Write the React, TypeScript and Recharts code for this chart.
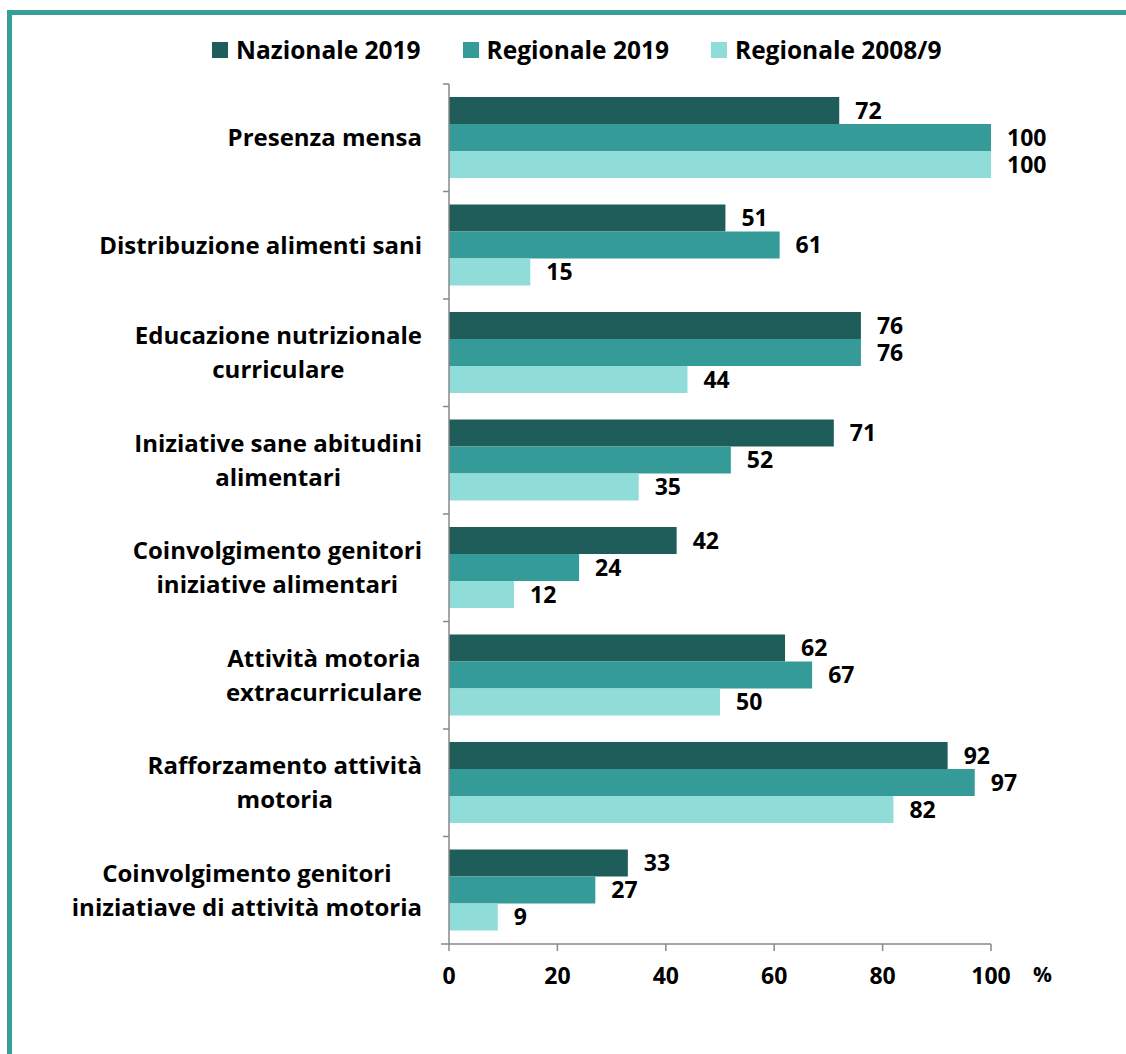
import { BarChart, Bar, XAxis, YAxis, LabelList } from 'recharts';

const categories = [
  'Presenza mensa',
  'Distribuzione alimenti sani',
  'Educazione nutrizionale|curriculare',
  'Iniziative sane abitudini|alimentari',
  'Coinvolgimento genitori|iniziative alimentari',
  'Attività motoria|extracurriculare',
  'Rafforzamento attività|motoria',
  'Coinvolgimento genitori|iniziatiave di attività motoria',
];

const nazionale2019 = [72, 51, 76, 71, 42, 62, 92, 33];
const regionale2019 = [100, 61, 76, 52, 24, 67, 97, 27];
const regionale2008 = [100, 15, 44, 35, 12, 50, 82, 9];

const xTicks = [0, 20, 40, 60, 80, 100];

const series = [
  { key: 'naz', name: 'Nazionale 2019', color: '#1f5d5b' },
  { key: 'reg', name: 'Regionale 2019', color: '#349b98' },
  { key: 'old', name: 'Regionale 2008/9', color: '#8fdcd9' },
];

const data = categories.map((c, i) => ({
  name: c,
  naz: nazionale2019[i],
  reg: regionale2019[i],
  old: regionale2008[i],
}));

const FONT = '"Open Sans", sans-serif';
const W = 1126;
const H = 1054;
const TOP = 84;
const BOTTOM = 944;
const band = (BOTTOM - TOP) / categories.length;

let ctx: CanvasRenderingContext2D | null = null;
function measure(text: string, size: number) {
  if (!ctx) ctx = document.createElement('canvas').getContext('2d');
  if (!ctx) return text.length * size * 0.5;
  ctx.font = `bold ${size}px "Open Sans"`;
  return ctx.measureText(text).width;
}

function CategoryTick(props: any) {
  const { x, y, payload, index } = props;
  const lines = String(payload.value).split('|');
  const size = 24;
  const maxW = Math.max(...lines.map((l) => measure(l, size)));
  const cx = x - 27 - maxW / 2;
  const lh = 34;
  const y0 = y - ((lines.length - 1) * lh) / 2;
  return (
    <g>
      <line x1={x - 6} x2={x} y1={y - band / 2} y2={y - band / 2} stroke="#888" strokeWidth={1.5} />
      {index === categories.length - 1 && (
        <line x1={x - 8} x2={x} y1={y + band / 2} y2={y + band / 2} stroke="#888" strokeWidth={1.5} />
      )}
      {lines.map((l, i) => (
        <text
          key={i}
          x={cx}
          y={y0 + i * lh}
          dy="0.35em"
          textAnchor="middle"
          fontFamily={FONT}
          fontWeight="bold"
          fontSize={size}
          fill="#000"
        >
          {l}
        </text>
      ))}
    </g>
  );
}

export default function App() {
  return (
    <div style={{ position: 'absolute', left: 0, top: 0, width: W, height: H, background: '#fff', overflow: 'hidden' }}>
      <div
        style={{
          position: 'absolute',
          left: 7,
          top: 10,
          right: 0,
          bottom: 0,
          borderTop: '5px solid #379e9b',
          borderLeft: '5px solid #379e9b',
        }}
      />
      <div
        style={{
          position: 'absolute',
          left: 212,
          top: 34,
          display: 'flex',
          gap: 42,
          fontFamily: FONT,
          fontWeight: 'bold',
          fontSize: 24.5,
          lineHeight: '32px',
          color: '#000',
        }}
      >
        {series.map((s) => (
          <div key={s.key} style={{ display: 'flex', alignItems: 'center', gap: 8 }}>
            <span style={{ width: 16, height: 16, background: s.color, display: 'inline-block' }} />
            <span>{s.name}</span>
          </div>
        ))}
      </div>
      <div
        style={{
          position: 'absolute',
          left: 1033,
          top: 960,
          fontFamily: FONT,
          fontSize: 21,
          fontWeight: 'bold',
        }}
      >
        %
      </div>
      <div style={{ position: 'absolute', left: 0, top: 0 }}>
        <BarChart
          width={W}
          height={H}
          data={data}
          layout="vertical"
          margin={{ top: TOP, right: W - 991, bottom: 0, left: 0 }}
          barCategoryGap={13}
          barGap={0}
        >
          <XAxis
            type="number"
            domain={[0, 100]}
            ticks={xTicks}
            height={H - BOTTOM}
            axisLine={{ stroke: '#888', strokeWidth: 1.5 }}
            tickLine={{ stroke: '#888', strokeWidth: 1.5 }}
            tickSize={7}
            tickMargin={17}
            tick={{ fontFamily: FONT, fontWeight: 'bold', fontSize: 23, fill: '#000' }}
          />
          <YAxis
            type="category"
            dataKey="name"
            width={449}
            axisLine={{ stroke: '#888', strokeWidth: 1.5 }}
            tickLine={false}
            tickSize={0}
            tickMargin={0}
            interval={0}
            tick={<CategoryTick />}
          />
          {series.map((s) => (
            <Bar key={s.key} dataKey={s.key} name={s.name} fill={s.color} isAnimationActive={false}>
              <LabelList
                dataKey={s.key}
                position="right"
                offset={16}
                fill="#000"
                fontFamily={FONT}
                fontWeight="bold"
                fontSize={23}
              />
            </Bar>
          ))}
        </BarChart>
      </div>
    </div>
  );
}
